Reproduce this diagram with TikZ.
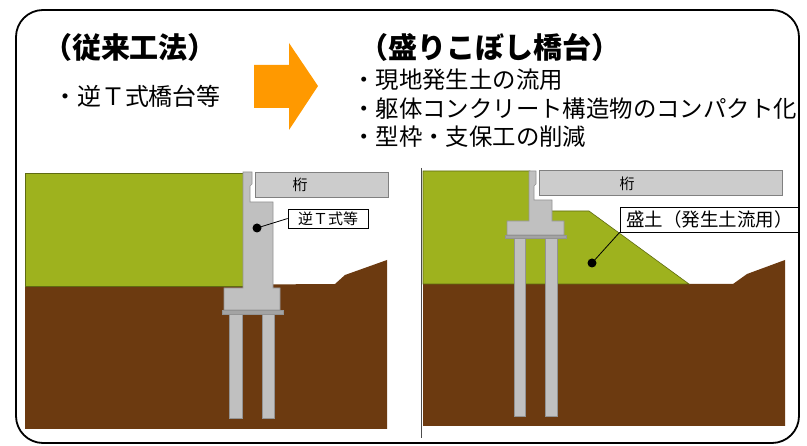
\documentclass[tikz,border=0pt]{standalone}
\usepackage{fontspec}
\newfontfamily\jpfont{Noto Sans CJK JP}
\definecolor{fillgreen}{RGB}{158,178,30}
\definecolor{soilbrown}{RGB}{108,58,16}
\definecolor{concgray}{RGB}{192,192,192}
\definecolor{girdgray}{RGB}{204,204,204}
\definecolor{arroworange}{RGB}{255,153,0}
\usetikzlibrary{positioning}

\begin{document}
\begin{tikzpicture}[x=1pt, y=-1pt,
  conc/.style={fill=concgray, draw=gray!85, line width=0.6pt},
  bank/.style={fill=fillgreen, draw=fillgreen!60!black, line width=0.6pt},
  soil/.style={fill=soilbrown},
  girder/.style={fill=girdgray, draw=gray, line width=0.8pt},
  callout/.style={draw, fill=white, line width=0.7pt, inner sep=1pt},
  pin/.style={circle, fill=black, inner sep=0pt, minimum size=9pt},
  bullet/.style={anchor=west, inner sep=0pt, font=\jpfont\fontsize{23.4}{26}\selectfont}
]
  \useasboundingbox (0,0) rectangle (807,446);

  % headings and notes
  \node[font=\jpfont\bfseries\fontsize{29}{32}\selectfont] (ltitle) at (130,47) {（従来工法）};
  \node[font=\jpfont\fontsize{24}{26}\selectfont] (lnote) at (137,96) {・逆Ｔ式橋台等};
  \node[font=\jpfont\bfseries\fontsize{29}{32}\selectfont] (rtitle) at (490,47) {（盛りこぼし橋台）};
  \node[bullet] (rnote1) at (352,80) {・現地発生土の流用};
  \node[bullet] (rnote2) at (352,109) {・躯体コンクリート構造物のコンパクト化};
  \node[bullet] (rnote3) at (352,137) {・型枠・支保工の削減};

  \fill[arroworange] (254,65) -- (289,65) -- (289,43) -- (318,86)
    -- (289,130) -- (289,108) -- (254,108) -- cycle;

  % conventional abutment
  \fill[soil] (25,286) -- (335,284) -- (345,275) -- (387,260) -- (387,429) -- (25,429) -- cycle;
  \draw[bank] (25,173) rectangle (243,286);
  \draw[conc] (243,172) -- (252,172) -- (252,184) -- (250,186) -- (250,202) -- (273,202)
    -- (273,288) -- (280,288) -- (280,310) -- (224,310) -- (224,288) -- (243,288) -- cycle;
  \draw[conc, fill=concgray!85!black] (222,310) rectangle (283,314);
  \draw[conc] (229,314) rectangle (242,418);
  \draw[conc] (262,314) rectangle (274,418);
  \draw[girder] (255,172) rectangle (388,197);
  \node[font=\jpfont\fontsize{15}{17}\selectfont] (lgirder) at (300,185) {桁};
  \node[callout, minimum width=80pt, minimum height=19pt, font=\jpfont\fontsize{15}{17}\selectfont]
    (ltag) at (328,218.5) {逆Ｔ式等};
  \node[pin] (ldot) at (257,228) {};
  \draw[line width=0.8pt] (ldot.center) -- (ltag.west);

  \draw[gray!60!black, line width=0.8pt] (421,168) -- (421,438);

  % fill-spill abutment
  \fill[soil] (423,284) -- (733,284) -- (747,274) -- (785,260) -- (785,426) -- (423,426) -- cycle;
  \draw[bank] (423,171) -- (530,171) -- (530,211) -- (589,211) -- (689,284) -- (423,284) -- cycle;
  \draw[conc] (529,171) -- (536,171) -- (536,184) -- (534,186) -- (534,200) -- (552,200)
    -- (552,221) -- (564,221) -- (564,235) -- (507,235) -- (507,221) -- (529,221) -- cycle;
  \draw[conc, fill=concgray!85!black] (505,235) rectangle (566,238);
  \draw[conc] (514,238) rectangle (525,416);
  \draw[conc] (545,238) rectangle (557,416);
  \draw[girder] (539,170) rectangle (782,195);
  \node[font=\jpfont\fontsize{15}{17}\selectfont] (rgirder) at (627,184) {桁};
  \node[callout, minimum width=179pt, minimum height=25pt, font=\jpfont\fontsize{18.5}{20}\selectfont]
    (rtag) at (709.5,219.5) {盛土（発生土流用）};
  \node[pin] (rdot) at (592,263) {};
  \draw[line width=0.8pt] (rdot.center) -- (rtag.south west);

  \draw[line width=1.8pt, rounded corners=27pt] (16,10) rectangle (799,443);
\end{tikzpicture}
\end{document}
